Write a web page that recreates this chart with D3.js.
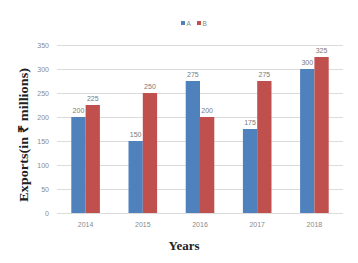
<!DOCTYPE html>
<html><head><meta charset="utf-8">
<script src="https://cdn.jsdelivr.net/npm/d3@7"></script>
<style>body{margin:0;background:#fff}svg{display:block}</style>
</head><body>
<script>
const years = ["2014","2015","2016","2017","2018"];
const seriesNames = ["A","B"];
const valuesA = [200,150,275,175,300];
const valuesB = [225,250,200,275,325];
const yTicks = [0,50,100,150,200,250,300,350];
const colors = ["#4F81BD","#C0504D"];

const W=358,H=263;
const m={left:57,right:15,top:45,bottom:50};
const svg=d3.select("body").append("svg").attr("width",W).attr("height",H);
const x=d3.scaleBand().domain(years).range([m.left,W-m.right]).paddingInner(0.5).paddingOuter(0.25);
const xs=d3.scaleBand().domain(seriesNames).range([0,x.bandwidth()]);
const y=d3.scaleLinear().domain([0,350]).range([H-m.bottom,m.top]);

// gridlines
svg.append("g").selectAll("line").data(yTicks).join("line")
 .attr("x1",m.left).attr("x2",W-m.right)
 .attr("y1",d=>y(d)+0.5).attr("y2",d=>y(d)+0.5)
 .attr("stroke","#dcdcdc").attr("stroke-width",1);

// y axis labels
const ya=svg.append("g").attr("transform",`translate(${m.left-8},0)`)
 .call(d3.axisLeft(y).tickValues(yTicks).tickSize(0).tickPadding(0));
ya.select(".domain").remove();
ya.selectAll("text").attr("fill","#8a8a8a").style("font-family","Liberation Sans, Arial, sans-serif").style("font-size","7px");

// x axis labels
const xa=svg.append("g").attr("transform",`translate(0,${H-m.bottom})`)
 .call(d3.axisBottom(x).tickSize(0).tickPadding(9));
xa.select(".domain").remove();
xa.selectAll("text").attr("fill","#8a8a8a").style("font-family","Liberation Sans, Arial, sans-serif").style("font-size","7px");

const data=years.map((yr,i)=>({year:yr,vals:[{k:"A",v:valuesA[i]},{k:"B",v:valuesB[i]}]}));
const g=svg.append("g").selectAll("g").data(data).join("g").attr("transform",d=>`translate(${x(d.year)},0)`);
g.selectAll("rect").data(d=>d.vals).join("rect")
 .attr("x",d=>xs(d.k)).attr("width",xs.bandwidth())
 .attr("y",d=>y(d.v)).attr("height",d=>y(0)-y(d.v))
 .attr("fill",(d,i)=>colors[i]);
g.selectAll("text").data(d=>d.vals).join("text")
 .attr("x",d=>xs(d.k)+xs.bandwidth()/2).attr("y",d=>y(d.v)-4)
 .attr("text-anchor","middle").attr("fill","#7a7a7a")
 .style("font-family","Liberation Sans, Arial, sans-serif").style("font-size","7px")
 .text(d=>d.v);

// legend
const lg=svg.append("g").attr("transform","translate(181,24)");
seriesNames.forEach((s,i)=>{
  const gg=lg.append("g").attr("transform",`translate(${i*16},0)`);
  gg.append("rect").attr("x",0).attr("y",-3).attr("width",4).attr("height",4).attr("fill",colors[i]);
  gg.append("text").attr("x",5.5).attr("y",1.5).attr("fill","#8a8a8a")
   .style("font-family","Liberation Sans, Arial, sans-serif").style("font-size","6.5px").text(s);
});

// axis titles
svg.append("text").attr("x",184).attr("y",250).attr("text-anchor","middle")
 .style("font-family","Liberation Serif, Times New Roman, serif").style("font-weight","bold").style("font-size","13px")
 .attr("fill","#222").text("Years");
svg.append("text").attr("transform","translate(28,135) rotate(-90)").attr("text-anchor","middle")
 .attr("textLength",134).attr("lengthAdjust","spacingAndGlyphs")
 .style("font-family","Liberation Serif, Times New Roman, serif").style("font-weight","bold").style("font-size","13.5px")
 .attr("fill","#222").text("Exports(in ₹ millions)");
</script>
</body></html>
